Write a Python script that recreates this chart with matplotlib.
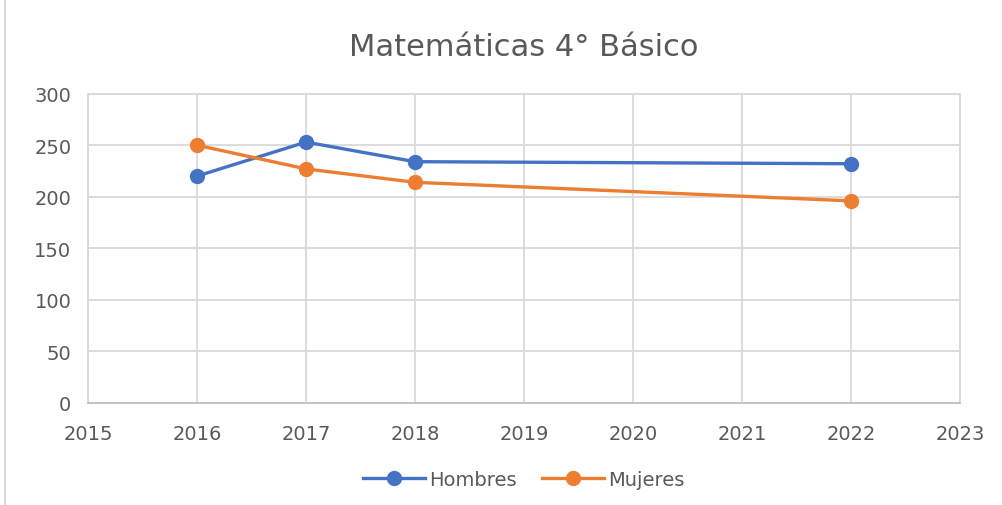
import matplotlib.pyplot as plt
from matplotlib.lines import Line2D

years = [2016, 2017, 2018, 2022]
hombres = [220, 253, 234, 232]
mujeres = [250, 227, 214, 196]
x_ticks = list(range(2015, 2024))
y_ticks = [0, 50, 100, 150, 200, 250, 300]

plt.rcParams['font.family'] = ['DejaVu Sans']

fig = plt.figure(figsize=(10.03, 5.06), dpi=100)
ax = fig.add_axes([0.0877, 0.2016, 0.8693, 0.6114])

ax.plot(years, hombres, color='#4472C4', lw=2.4, marker='o', ms=10, label='Hombres', zorder=3)
ax.plot(years, mujeres, color='#ED7D31', lw=2.4, marker='o', ms=10, label='Mujeres', zorder=3)

ax.set_xlim(2015, 2023)
ax.set_ylim(0, 300)
ax.set_xticks(x_ticks)
ax.set_yticks(y_ticks)
ax.grid(True, color='#d9d9d9', lw=1.3)
ax.set_axisbelow(True)
for s in ax.spines.values():
    s.set_color('#d9d9d9')
    s.set_linewidth(1.3)
ax.spines['bottom'].set_color('#bfbfbf')
ax.tick_params(length=0, labelsize=14, colors='#595959')
ax.tick_params(axis='y', pad=12)
ax.tick_params(axis='x', pad=15)

ax.set_title('Matemáticas 4° Básico', fontsize=22, color='#595959', pad=28)

ax.legend(loc='upper center', bbox_to_anchor=(0.5, -0.16), ncol=2, frameon=False,
          fontsize=14, labelcolor='#595959', handlelength=3.2, columnspacing=1.3, handletextpad=0.2)

fig.add_artist(Line2D([0.005, 0.005], [0, 1], color='#d9d9d9', lw=1.5, transform=fig.transFigure))

fig.savefig('out.png', dpi=100)
